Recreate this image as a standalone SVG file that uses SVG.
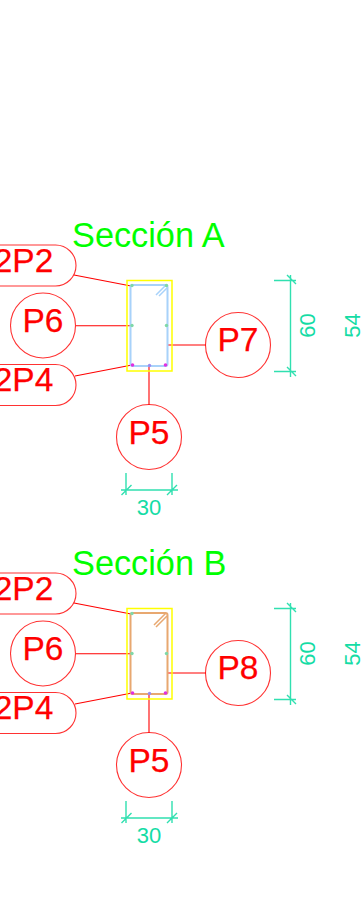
<svg xmlns="http://www.w3.org/2000/svg" width="362" height="922" viewBox="0 0 362 922">
<defs>
<style>
text{font-family:"Liberation Sans",Arial,sans-serif}
.t{font-size:33.500px;fill:#f00;text-anchor:middle;stroke:#f00;stroke-width:.25}
.h{font-size:34.300px;fill:#0f0}
.d{font-size:22px;fill:#14dca5;text-anchor:middle}
.b{fill:#fff;stroke:#f00;stroke-width:1.100;opacity:.8}
.l{fill:none;stroke:#f00;stroke-width:1.100}
.y{fill:none;stroke:#ff0;stroke-width:1.500}
.dl{fill:none;stroke:#30e0b0;stroke-width:1.400}
</style>
<g id="dimV">
<path class="dl" d="M274 280.500H296M274 371.500H296M290.500 275V377M287 275L296 284M287 367L296 376"/>
</g>
<g id="dimH">
<path class="dl" d="M126 473V495M172 473V495M121 490H178M121.500 495L131.500 485M167 495L177 485"/>
</g>
</defs>
<g id="connectors">
<path class="l" d="M74 275L131 286M76 325.700H131M75 376L132 365M168 345H206M149 366V405"/>
<path class="l" d="M74 603L131 614M76 653.700H131M75 704L132 693M168 673H206M149 694V733"/>
</g>
<g id="section-a">
<text class="h" x="72" y="246.500">Sección A</text>
<rect class="y" x="127" y="280.500" width="45" height="90.500"/>
<rect x="130.500" y="285" width="37" height="81" rx="2" fill="none" stroke="#a8d2fa" stroke-width="2"/>
<path d="M166 285L156 295M167 288L159 296" fill="none" stroke="#a8d2fa" stroke-width="1.500"/>
<g fill="#7fd8a8"><circle cx="132" cy="285.500" r="1.700"/><circle cx="132" cy="325.500" r="1.700"/><circle cx="166.500" cy="325.500" r="1.700"/><circle cx="166.500" cy="285.500" r="1.700"/></g>
<g fill="#e030e0"><circle cx="132.500" cy="365" r="1.800"/><circle cx="165.500" cy="365" r="1.800"/></g>
<circle cx="149.500" cy="365.500" r="1.700" fill="#9a8cf0"/>
</g>
<g id="section-b">
<text class="h" x="72" y="574.500">Sección B</text>
<rect class="y" x="127" y="608.500" width="45" height="90.500"/>
<rect x="130.500" y="613" width="37" height="81" rx="2" fill="none" stroke="#e8a870" stroke-width="2"/>
<path d="M166 613L154 625M167 616L156 627" fill="none" stroke="#e8a870" stroke-width="1.500"/>
<g fill="#7fd8a8"><circle cx="132" cy="613.500" r="1.700"/><circle cx="132" cy="653.500" r="1.700"/><circle cx="166.500" cy="653.500" r="1.700"/></g>
<g fill="#e030e0"><circle cx="132.500" cy="693" r="1.800"/><circle cx="165.500" cy="693" r="1.800"/></g>
<circle cx="149.500" cy="693.500" r="1.700" fill="#9a8cf0"/>
</g>
<g id="a-2P2"><rect class="b" x="-30" y="245" width="106" height="41" rx="20.500"/><text class="t" x="23.500" y="272">2P2</text></g>
<g id="a-P6"><circle class="b" cx="43" cy="325.500" r="32.500"/><text class="t" x="43" y="332">P6</text></g>
<g id="a-2P4"><rect class="b" x="-30" y="364.500" width="106" height="41" rx="20.500"/><text class="t" x="23.500" y="391">2P4</text></g>
<g id="a-P7"><circle class="b" cx="238" cy="345" r="32.500"/><text class="t" x="238" y="351">P7</text></g>
<g id="a-P5"><circle class="b" cx="149" cy="437" r="32.500"/><text class="t" x="149" y="444">P5</text></g>
<g id="b-2P2"><rect class="b" x="-30" y="573" width="106" height="41" rx="20.500"/><text class="t" x="23.500" y="600">2P2</text></g>
<g id="b-P6"><circle class="b" cx="43" cy="653.500" r="32.500"/><text class="t" x="43" y="660">P6</text></g>
<g id="b-2P4"><rect class="b" x="-30" y="692.500" width="106" height="41" rx="20.500"/><text class="t" x="23.500" y="719">2P4</text></g>
<g id="b-P8"><circle class="b" cx="238" cy="673" r="32.500"/><text class="t" x="238" y="679">P8</text></g>
<g id="b-P5"><circle class="b" cx="149" cy="765" r="32.500"/><text class="t" x="149" y="772">P5</text></g>
<g id="dims-a">
<use href="#dimV"/><use href="#dimH"/>
<text class="d" transform="translate(315 325.500) rotate(-90)">60</text>
<text class="d" transform="translate(360 325.500) rotate(-90)">54</text>
<text class="d" x="149" y="514.500">30</text>
</g>
<g id="dims-b">
<use href="#dimV" y="328"/><use href="#dimH" y="328"/>
<text class="d" transform="translate(315 653.500) rotate(-90)">60</text>
<text class="d" transform="translate(360 653.500) rotate(-90)">54</text>
<text class="d" x="149" y="842.500">30</text>
</g>
</svg>
